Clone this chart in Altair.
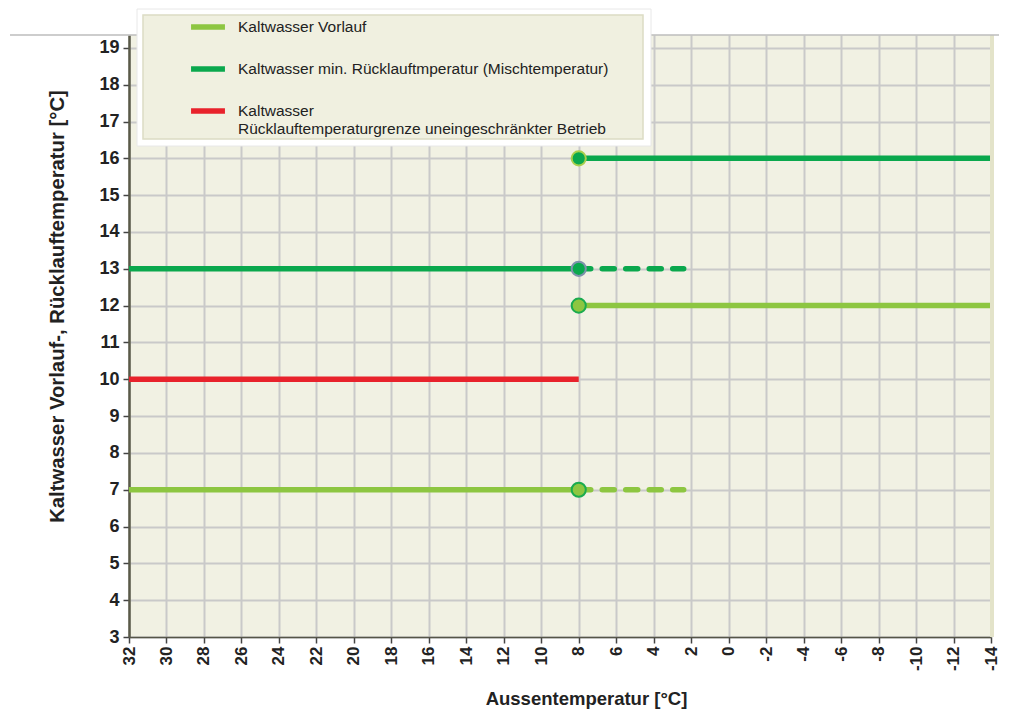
import altair as alt
import pandas as pd

# ---- data ----
series_names = [
    "Kaltwasser Vorlauf",
    "Kaltwasser min. Rücklauftmperatur (Mischtemperatur)",
    "Kaltwasser|Rücklauftemperaturgrenze uneingeschränkter Betrieb",
]
series_colors = ["#8dc641", "#0aa84d", "#e8222b"]
series_widths = [5.5, 5.5, 3.5]

seg_series = [0, 0, 0, 1, 1, 1, 2]
seg_x0 = [32, 8, 8, 32, 8, 8, 32]
seg_x1 = [8, 2.4, -14, 8, 2.4, -14, 8]
seg_y = [7, 7, 12, 13, 13, 16, 10]
seg_style = ["solid", "dashed", "solid", "solid", "dashed", "solid", "solid"]

pt_series = [0, 0, 1, 1]
pt_x = [8, 8, 8, 8]
pt_y = [7, 12, 13, 16]

x_ticks = [32, 30, 28, 26, 24, 22, 20, 18, 16, 14, 12, 10, 8, 6, 4, 2, 0,
           -2, -4, -6, -8, -10, -12, -14]
y_ticks = [3, 4, 5, 6, 7, 8, 9, 10, 11, 12, 13, 14, 15, 16, 17, 18, 19]

segs = pd.DataFrame({
    "serie": [series_names[i] for i in seg_series],
    "x0": seg_x0, "x1": seg_x1, "y": seg_y, "style": seg_style,
})
pts = pd.DataFrame({
    "serie": [series_names[i] for i in pt_series],
    "x": pt_x, "y": pt_y,
})

W, H = 862, 602
xscale = alt.Scale(domain=[32, -14], nice=False, zero=False)
yscale = alt.Scale(domain=[3, 19.35], nice=False, zero=False)

color = alt.Color(
    "serie:N",
    scale=alt.Scale(domain=series_names, range=series_colors),
    legend=alt.Legend(
        title=None, orient="none", legendX=59, legendY=-28,
        symbolType="stroke", symbolSize=1150, padding=0,
        labelFont="Liberation Sans", labelFontSize=15.5, labelColor="#222222",
        labelOffset=10, rowPadding=11, labelLimit=700,
        labelExpr="split(datum.label, '|')", labelBaseline="middle",
        symbolStrokeColor="black",
    ),
)
swidth = alt.StrokeWidth(
    "serie:N",
    scale=alt.Scale(domain=series_names, range=series_widths),
    legend=None,
)

x_axis = alt.Axis(
    values=x_ticks, labelAngle=270, labelExpr="datum.value + ''",
    labelOverlap=False,
    labelFont="Liberation Sans", labelFontSize=17, labelFontWeight="bold",
    labelColor="#222222", labelPadding=3,
    tickSize=6, tickColor="#444444", tickWidth=1.5,
    domainColor="#555548", domainWidth=1.5,
    gridColor="#c9c9c9", gridWidth=2,
    title="Aussentemperatur [°C]", titleFont="Liberation Sans",
    titleFontSize=18.5, titleFontWeight="bold", titleColor="#222222",
    titleX=457, titleY=61, titleAlign="center", titleBaseline="middle",
)
y_axis = alt.Axis(
    values=y_ticks, labelExpr="datum.value + ''",
    labelOverlap=False,
    labelFont="Liberation Sans", labelFontSize=18, labelFontWeight="bold",
    labelColor="#222222", labelPadding=4,
    tickSize=6, tickColor="#444444", tickWidth=1.5,
    domainColor="#5a5a48", domainWidth=2.5,
    gridColor="#c9c9c9", gridWidth=2,
    title="Kaltwasser Vorlauf-, Rücklauftemperatur [°C]",
    titleFont="Liberation Sans", titleFontSize=20.3, titleFontWeight="bold",
    titleColor="#222222", titleAngle=270,
    titleX=-72, titleY=271, titleAlign="center", titleBaseline="middle",
)

base = alt.Chart(segs)

solid = base.transform_filter(alt.datum.style == "solid").mark_rule(
    strokeCap="butt"
).encode(
    x=alt.X("x0:Q", scale=xscale, axis=x_axis),
    x2="x1:Q",
    y=alt.Y("y:Q", scale=yscale, axis=y_axis),
    color=color,
    strokeWidth=swidth,
)

dashed = base.transform_filter(alt.datum.style == "dashed").mark_rule(
    strokeCap="round", strokeDash=[12, 11.5]
).encode(
    x=alt.X("x0:Q", scale=xscale, axis=x_axis),
    x2="x1:Q",
    y=alt.Y("y:Q", scale=yscale, axis=y_axis),
    color=color,
    strokeWidth=swidth,
)

marker_stroke = (
    alt.when(alt.datum.y == 13).then(alt.value("#7d93ab"))
    .when(alt.datum.y == 16).then(alt.value("#a9cf4c"))
    .otherwise(alt.value("#1aab4e"))
)

points = alt.Chart(pts).mark_point(
    filled=True, size=200, strokeWidth=2, opacity=1
).encode(
    x=alt.X("x:Q", scale=xscale, axis=x_axis),
    y=alt.Y("y:Q", scale=yscale, axis=y_axis),
    fill=alt.Fill("serie:N",
                  scale=alt.Scale(domain=series_names, range=series_colors),
                  legend=None),
    stroke=marker_stroke,
)

one = pd.DataFrame({"k": [0]})
# legend box decoration (white frame + beige panel)
frame = alt.Chart(one).mark_rect(
    fill="white", stroke="#e8e8e8", strokeWidth=1
).encode(x=alt.value(8), x2=alt.value(522), y=alt.value(-26), y2=alt.value(111))
panel = alt.Chart(one).mark_rect(
    fill="#f0f0e0", stroke="#dcdcc4", strokeWidth=1.5
).encode(x=alt.value(14), x2=alt.value(514), y=alt.value(-20), y2=alt.value(104))
topline = alt.Chart(one).mark_rule(
    color="#bdbdbd", strokeWidth=1.5
).encode(x=alt.value(-119), x2=alt.value(W + 8), y=alt.value(0))
rightedge = alt.Chart(one).mark_rule(
    color="#e3e3c9", strokeWidth=4
).encode(x=alt.value(W + 1), y=alt.value(0), y2=alt.value(H))

chart = alt.layer(solid, dashed, points, rightedge, topline, frame, panel).properties(
    width=W, height=H,
    autosize=alt.AutoSizeParams(type="none"),
    padding={"left": 121, "top": 27, "right": 11, "bottom": 74},
    background="white",
).configure_view(
    fill="#f1f1e3", stroke=None,
)

chart.save("out.html", embed_options={"renderer": "svg", "actions": False})
